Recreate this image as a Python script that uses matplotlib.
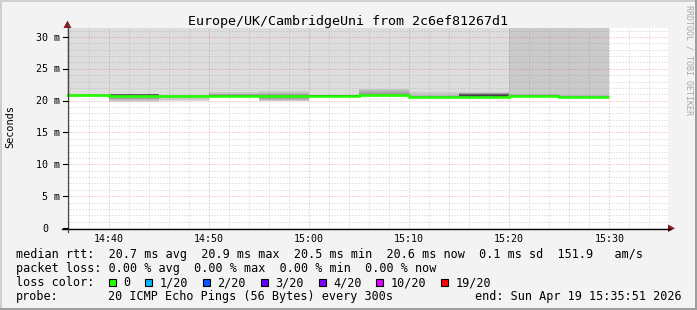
import numpy as np
import matplotlib
matplotlib.use("Agg")
import matplotlib.pyplot as plt
from matplotlib.patches import Rectangle, Polygon
from matplotlib.lines import Line2D

# ---------------- data ----------------
interval_end = ["14:40", "14:45", "14:50", "14:55", "15:00", "15:05",
                "15:10", "15:15", "15:20", "15:25", "15:30"]
median_ms = [20.9, 20.7, 20.7, 20.75, 20.7, 20.8, 20.9, 20.6, 20.5, 20.7, 20.6]
# 20 sorted pings per 5-minute interval (ms)
pings_ms = [
    [20.62, 20.64, 20.66, 20.68, 20.70, 20.72, 20.75, 20.80, 20.86, 20.90,
     20.91, 20.92, 20.93, 20.94, 20.95, 20.96, 20.97, 20.98, 21.00, 42.0],
    [19.80, 19.90, 20.05, 20.30, 20.50, 20.60, 20.64, 20.66, 20.68, 20.70,
     20.71, 20.80, 20.97, 20.98, 20.99, 21.00, 21.00, 21.01, 21.02, 38.0],
    [20.00, 20.10, 20.40, 20.55, 20.60, 20.62, 20.64, 20.66, 20.68, 20.69,
     20.71, 20.72, 20.74, 20.76, 20.78, 20.80, 20.82, 20.84, 20.88, 37.0],
    [20.50, 20.53, 20.55, 20.56, 20.57, 20.58, 20.60, 20.62, 20.70, 20.74,
     20.76, 20.80, 20.84, 20.88, 20.90, 20.95, 21.00, 21.10, 21.35, 36.0],
    [19.92, 19.95, 20.05, 20.30, 20.50, 20.60, 20.64, 20.66, 20.68, 20.69,
     20.71, 20.73, 20.76, 20.80, 20.85, 20.90, 21.00, 21.20, 21.50, 39.0],
    [20.60, 20.62, 20.66, 20.70, 20.72, 20.74, 20.76, 20.78, 20.79, 20.80,
     20.81, 20.82, 20.83, 20.85, 20.87, 20.89, 20.91, 20.93, 20.96, 41.0],
    [20.65, 20.68, 20.72, 20.76, 20.80, 20.83, 20.86, 20.88, 20.89, 20.90,
     20.91, 20.93, 20.95, 20.98, 21.02, 21.10, 21.30, 21.60, 21.90, 44.0],
    [20.45, 20.48, 20.50, 20.52, 20.54, 20.56, 20.57, 20.58, 20.59, 20.60,
     20.61, 20.62, 20.64, 20.66, 20.70, 20.75, 20.80, 20.90, 21.30, 37.5],
    [20.35, 20.40, 20.42, 20.44, 20.46, 20.47, 20.48, 20.49, 20.50, 20.50,
     20.51, 20.95, 21.00, 21.02, 21.05, 21.10, 21.15, 21.20, 21.30, 40.0],
    [20.55, 20.60, 20.64, 20.67, 20.70, 20.72, 20.73, 20.74, 20.75, 20.75,
     20.76, 20.78, 20.80, 20.83, 20.86, 20.90, 20.95, 21.05, 34.00, 45.0],
    [20.45, 20.50, 20.52, 20.54, 20.56, 20.57, 20.58, 20.59, 20.60, 20.60,
     20.61, 20.62, 20.63, 20.65, 20.67, 20.70, 20.75, 20.85, 33.00, 46.0],
]
x_tick_labels = ["14:40", "14:50", "15:00", "15:10", "15:20", "15:30"]
y_tick_values = [0, 5, 10, 15, 20, 25, 30]
view_start = "14:35:51"
view_end = "15:35:51"
y_max_ms = 31.41

title = "Europe/UK/CambridgeUni from 2c6ef81267d1"
ylabel = "Seconds"
stats_rows = [
    "median rtt:  20.7 ms avg  20.9 ms max  20.5 ms min  20.6 ms now  0.1 ms sd  151.9   am/s",
    "packet loss: 0.00 % avg  0.00 % max  0.00 % min  0.00 % now",
]
loss_labels = ["0", "1/20", "2/20", "3/20", "4/20", "10/20", "19/20"]
loss_colors = ["#26ff00", "#00b8ff", "#0059ff", "#5e00ff", "#7e00ff", "#dd00ff", "#ff0000"]
probe_text = "20 ICMP Echo Pings (56 Bytes) every 300s"
end_text = "end: Sun Apr 19 15:35:51 2026"
side_text = "RRDTOOL / TOBI OETIKER"

# ---------------- helpers ----------------
W, H = 697, 310
MONO = "DejaVu Sans Mono"
plt.rcParams["lines.scale_dashes"] = False


def tmin(s):
    parts = [int(p) for p in s.split(":")]
    while len(parts) < 3:
        parts.append(0)
    return (parts[0] - 14) * 60 + parts[1] + parts[2] / 60.0


def fx(x):
    return x / W


def fy(y):
    return 1 - y / H


fig = plt.figure(figsize=(W / 100, H / 100), dpi=100, facecolor="#f3f3f3")

# plot area in pixels
PL, PR, PT, PB = 67, 668, 28, 228
ax = fig.add_axes([fx(PL), fy(PB), (PR - PL) / W, (PB - PT) / H])
ax.set_facecolor("white")
for s in ax.spines.values():
    s.set_visible(False)
ax.set_xticks([])
ax.set_yticks([])
x0, x1 = tmin(view_start), tmin(view_end)
ax.set_xlim(x0, x1)
ax.set_ylim(0, y_max_ms)

# time edges of the steps
ends = np.array([tmin(t) for t in interval_end])
edges = np.concatenate([[ends[0] - 5], ends])
P = np.array(pings_ms)
n = P.shape[1]
half = n // 2

# smoke (smokeping style)
for ibot in range(1, half + 1):
    itop = n + 1 - ibot
    g = int(190 / half * (half - ibot)) + 50
    col = "#%02x%02x%02x" % (g, g, g)
    ax.stairs(P[:, itop - 1], edges, baseline=P[:, ibot - 1], fill=True,
              color=col, lw=0, zorder=1)

# grid
minor_c = (0.55, 0.55, 0.55, 0.42)
major_c = (0.85, 0.25, 0.25, 0.45)
dot = (0, (0.72, 1.44))
for m in range(int(np.ceil(x0)), int(x1) + 1):
    if m % 2:
        continue
    c = major_c if m % 10 == 0 else minor_c
    ax.axvline(m, color=c, lw=0.72, ls=dot, zorder=2)
for v in range(1, int(y_max_ms) + 1):
    c = major_c if v % 5 == 0 else minor_c
    ax.axhline(v, color=c, lw=0.72, ls=dot, zorder=2)

# median line
ax.stairs(median_ms, edges, baseline=None, color=loss_colors[0], lw=1.9, zorder=3)

# axes lines and arrows (figure pixel coordinates)
def pline(xs, ys, **kw):
    fig.add_artist(Line2D([fx(x) for x in xs], [fy(y) for y in ys],
                          transform=fig.transFigure, **kw))

pline([62, 670], [228.5, 228.5], color="black", lw=1.0)
pline([67.5, 67.5], [232, 24], color="#444444", lw=0.9)
for v in y_tick_values:
    ypx = PB - v / y_max_ms * (PB - PT)
    pline([63, 67.5], [ypx, ypx], color="black", lw=0.8)
fig.add_artist(Polygon([(fx(668), fy(224.5)), (fx(668), fy(232)), (fx(675), fy(228.3))],
                       closed=True, transform=fig.transFigure, color="#8b1a1a", lw=0))
fig.add_artist(Polygon([(fx(63.5), fy(28)), (fx(71.5), fy(28)), (fx(67.5), fy(20.5))],
                       closed=True, transform=fig.transFigure, color="#8b1a1a", lw=0))

# tick labels
for lbl in x_tick_labels:
    xpx = PL + (tmin(lbl) - x0) / (x1 - x0) * (PR - PL)
    fig.text(fx(xpx), fy(241.5), lbl, ha="center", va="baseline",
             family=MONO, fontsize=7.2, color="black")
for v in y_tick_values:
    ypx = PB - v / y_max_ms * (PB - PT)
    lbl = f"{v} m" if v else "0  "
    fig.text(fx(60 - 6.0 * len(lbl)), fy(ypx + 3.6), lbl.rstrip(), ha="left",
             va="baseline", family=MONO, fontsize=7.2, color="black")

# title, y label, side text
fig.text(fx(348), fy(24.5), title, ha="center", va="baseline",
         family=MONO, fontsize=9.6, color="black")
fig.text(fx(10.5), fy(127), ylabel, ha="center", va="center", rotation=90,
         family=MONO, fontsize=7.4, color="black")
fig.text(fx(689), fy(5), side_text, ha="center", va="top", rotation=270,
         family=MONO, fontsize=6.0, color="#a8a8a8")

# legend rows
CW = 7.08
LFS = 8.5
fig.text(fx(16), fy(258), stats_rows[0], ha="left", va="baseline", family=MONO, fontsize=LFS)
fig.text(fx(16), fy(272), stats_rows[1], ha="left", va="baseline", family=MONO, fontsize=LFS)
fig.text(fx(16), fy(286), "loss color:", ha="left", va="baseline", family=MONO, fontsize=LFS)
bx = 108.5
for lbl, col in zip(loss_labels, loss_colors):
    fig.add_artist(Rectangle((fx(bx), fy(286)), 7 / W, 7 / H, transform=fig.transFigure,
                             facecolor=col, edgecolor="black", lw=0.8))
    tx = bx + 14.5
    fig.text(fx(tx), fy(286), lbl, ha="left", va="baseline", family=MONO, fontsize=LFS)
    bx = tx + CW * len(lbl) + 15
fig.text(fx(16), fy(300), "probe:", ha="left", va="baseline", family=MONO, fontsize=LFS)
fig.text(fx(16 + 13 * CW), fy(300), probe_text, ha="left", va="baseline", family=MONO, fontsize=LFS)
fig.text(fx(682), fy(300), end_text, ha="right", va="baseline", family=MONO, fontsize=LFS)

# 3D border
fig.add_artist(Rectangle((0, fy(2)), 1, 2 / H, transform=fig.transFigure, color="#cfcfcf", lw=0))
fig.add_artist(Rectangle((0, 0), 2 / W, 1, transform=fig.transFigure, color="#cfcfcf", lw=0))
fig.add_artist(Rectangle((0, 0), 1, 2 / H, transform=fig.transFigure, color="#9e9e9e", lw=0))
fig.add_artist(Rectangle((fx(695), 0), 2 / W, 1, transform=fig.transFigure, color="#9e9e9e", lw=0))

fig.savefig("out.png", dpi=100, facecolor=fig.get_facecolor())
